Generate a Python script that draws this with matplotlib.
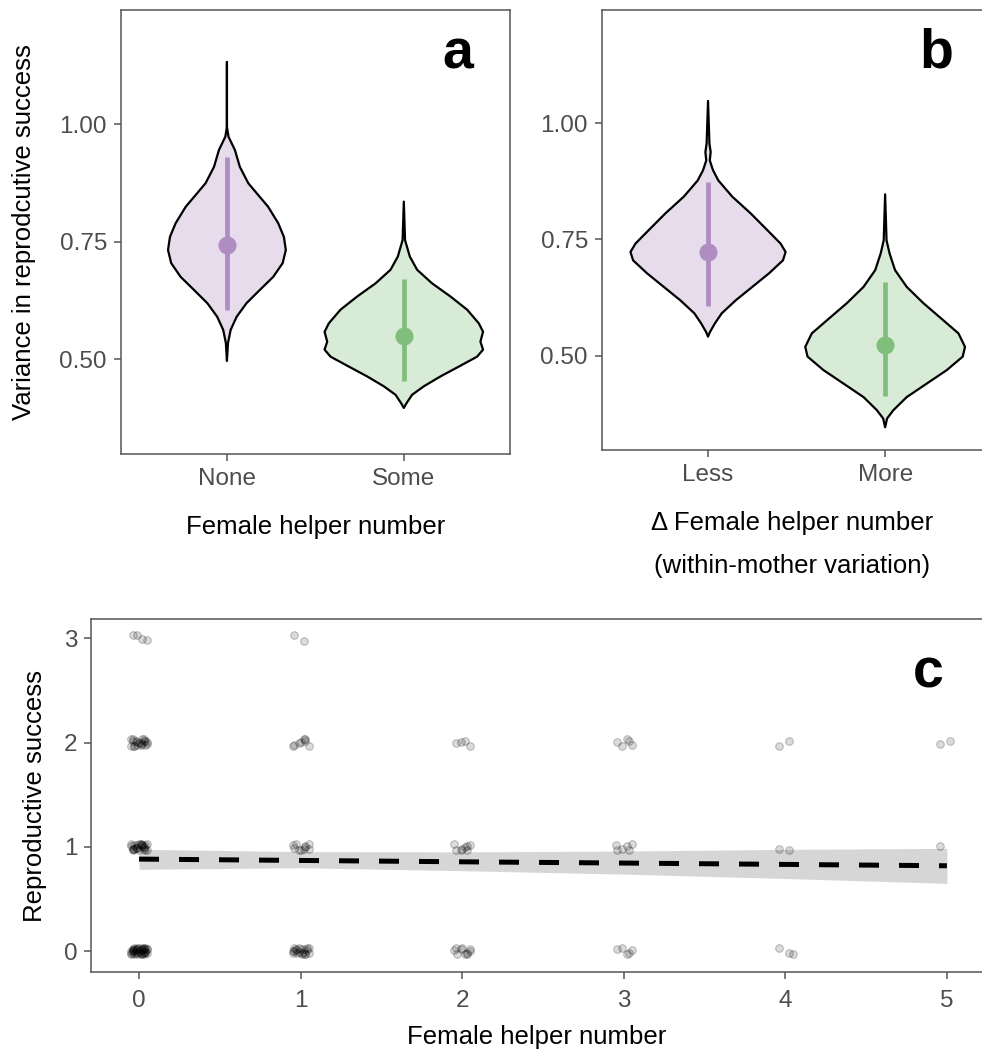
import numpy as np
import matplotlib.pyplot as plt

plt.rcParams['font.family'] = ['Liberation Sans', 'DejaVu Sans']

# ---- panel a: posterior violins (value, half width) ----
groups_a = ['None', 'Some']
none_y = [1.132, 0.994, 0.973, 0.945, 0.909, 0.874, 0.853, 0.824, 0.789, 0.760, 0.732,
          0.704, 0.675, 0.647, 0.619, 0.590, 0.562, 0.534, 0.496]
none_w = [0.0, 0.0, 0.009, 0.045, 0.073, 0.121, 0.168, 0.233, 0.290, 0.322, 0.333,
          0.315, 0.262, 0.186, 0.111, 0.055, 0.021, 0.006, 0.0]
some_y = [0.835, 0.753, 0.718, 0.690, 0.661, 0.633, 0.605, 0.576, 0.558, 0.537, 0.520,
          0.505, 0.484, 0.463, 0.442, 0.424, 0.406, 0.396]
some_w = [0.0, 0.007, 0.034, 0.075, 0.160, 0.264, 0.358, 0.424, 0.448, 0.433, 0.448,
          0.414, 0.311, 0.207, 0.113, 0.047, 0.015, 0.0]
med_a = [0.743, 0.548]
lo_a = [0.605, 0.454]
hi_a = [0.929, 0.670]

# ---- panel b ----
groups_b = ['Less', 'More']
less_y = [1.048, 0.956, 0.938, 0.920, 0.899, 0.877, 0.842, 0.806, 0.770, 0.741, 0.723,
          0.705, 0.677, 0.648, 0.619, 0.591, 0.569, 0.551, 0.541]
less_w = [0.0, 0.008, 0.015, 0.010, 0.028, 0.058, 0.137, 0.241, 0.335, 0.410, 0.438,
          0.423, 0.344, 0.250, 0.156, 0.077, 0.038, 0.011, 0.0]
more_y = [0.847, 0.748, 0.720, 0.684, 0.648, 0.613, 0.576, 0.548, 0.519, 0.498, 0.469,
          0.440, 0.411, 0.383, 0.365, 0.346]
more_w = [0.0, 0.008, 0.025, 0.056, 0.122, 0.216, 0.329, 0.414, 0.451, 0.438, 0.348,
          0.235, 0.122, 0.047, 0.011, 0.0]
med_b = [0.723, 0.522]
lo_b = [0.606, 0.413]
hi_b = [0.874, 0.659]

# ---- panel c: raw counts per (helpers, success) cell ----
cell_x = [0, 0, 0, 0, 1, 1, 1, 1, 2, 2, 2, 3, 3, 3, 4, 4, 4, 5, 5]
cell_y = [0, 1, 2, 3, 0, 1, 2, 3, 0, 1, 2, 0, 1, 2, 0, 1, 2, 1, 2]
cell_n = [40, 25, 20, 4, 20, 10, 8, 2, 10, 8, 4, 5, 6, 5, 3, 2, 2, 1, 2]
jit_dx = [-0.04, 0.02, 0.05, -0.01, 0.03, -0.05, 0.00, 0.03, -0.03, 0.05, -0.05, 0.01,
          -0.03, 0.04, -0.01, 0.02, -0.02, 0.04, -0.04, 0.01, 0.03, -0.04, 0.02, -0.01,
          0.00, 0.04, -0.03, 0.01, -0.05, 0.05, -0.02, 0.02, -0.01, 0.03, -0.02, 0.04,
          -0.04, 0.01, 0.03, -0.04]
jit_dy = [0.01, -0.03, 0.02, 0.03, -0.01, -0.02, 0.03, -0.03, 0.00, 0.02, -0.03, 0.01,
          0.03, -0.02, -0.03, 0.02, 0.01, -0.01, 0.02, -0.02, 0.03, 0.00, -0.02, 0.02,
          -0.01, 0.03, -0.03, 0.01, 0.00, -0.02, 0.02, 0.03, -0.02, 0.02, -0.01, 0.00,
          0.01, -0.03, 0.02, -0.02]
fit_x = [0, 1, 2, 3, 4, 5]
fit_y = [0.883, 0.870, 0.857, 0.845, 0.832, 0.819]
fit_lo = [0.785, 0.800, 0.772, 0.739, 0.697, 0.650]
fit_hi = [0.977, 0.955, 0.952, 0.960, 0.976, 0.986]

purple = '#af8dc3'
green = '#7fbf7b'
spine_col = '#555555'
tick_col = '#4d4d4d'

fig = plt.figure(figsize=(9.82, 10.52), dpi=100)
ax_a = fig.add_axes([0.1230, 0.5680, 0.3963, 0.4222])
ax_b = fig.add_axes([0.6128, 0.5726, 0.3872, 0.4177])
ax_c = fig.add_axes([0.0927, 0.0760, 0.9073, 0.3356])


def style(ax):
    for s in ax.spines.values():
        s.set_color(spine_col)
        s.set_linewidth(1.1)
    ax.tick_params(length=5, width=1.1, color=spine_col, labelcolor=tick_col,
                   labelsize=17.5, pad=5)


def violin(ax, pos, ys, ws, col):
    ys = np.array(ys)
    ws = np.array(ws)
    xs = np.concatenate([pos + ws, (pos - ws)[::-1]])
    yy = np.concatenate([ys, ys[::-1]])
    ax.fill(xs, yy, facecolor=col, alpha=0.3, edgecolor='none')
    ax.fill(xs, yy, facecolor='none', edgecolor='black', lw=1.6, joinstyle='round')


for ax, outlines, meds, los, his, names in [
        (ax_a, [(none_y, none_w), (some_y, some_w)], med_a, lo_a, hi_a, groups_a),
        (ax_b, [(less_y, less_w), (more_y, more_w)], med_b, lo_b, hi_b, groups_b)]:
    cols = [purple, green]
    for i, (ys, ws) in enumerate(outlines):
        pos = i + 1
        violin(ax, pos, ys, ws, cols[i])
        ax.plot([pos, pos], [los[i], his[i]], color=cols[i], lw=3.4, solid_capstyle='butt')
        ax.plot(pos, meds[i], 'o', ms=13, color=cols[i], mec='none')
    ax.set_xticks([1, 2])
    ax.set_xticklabels(names)
    ax.set_yticks([0.5, 0.75, 1.0])
    ax.set_yticklabels(['0.50', '0.75', '1.00'])
    style(ax)

ax_a.set_xlim(0.4, 2.6)
ax_a.set_ylim(0.297, 1.242)
ax_b.set_xlim(0.4, 2.547)
ax_b.set_ylim(0.298, 1.243)
ax_b.spines['right'].set_visible(False)

ax_a.set_ylabel('Variance in reprodcutive success', fontsize=18.5, labelpad=17)
ax_a.set_xlabel('Female helper number', fontsize=18.5, labelpad=18)
ax_b.set_xlabel('\u0394 Female helper number\n(within-mother variation)', fontsize=18.5,
                labelpad=18, linespacing=2.0)

ax_a.text(0.905, 0.96, 'a', transform=ax_a.transAxes, fontsize=40, fontweight='bold',
          ha='right', va='top')
ax_b.text(0.925, 0.96, 'b', transform=ax_b.transAxes, fontsize=40, fontweight='bold',
          ha='right', va='top')

# panel c
ax_c.fill_between(fit_x, fit_lo, fit_hi, color='#d6d6d6', lw=0)
px, py = [], []
for x, y, n in zip(cell_x, cell_y, cell_n):
    for k in range(n):
        j = k % len(jit_dx)
        px.append(x + jit_dx[j])
        py.append(y + jit_dy[(j + 3 * x + y) % len(jit_dy)])
ax_c.scatter(px, py, s=30, facecolor=(0, 0, 0, 0.14), edgecolor=(0, 0, 0, 0.25),
             linewidth=0.7, zorder=2)
ax_c.plot(fit_x, fit_y, color='black', lw=3.6, dashes=(4, 4), zorder=3)
ax_c.set_xlim(-0.297, 5.217)
ax_c.set_ylim(-0.2, 3.185)
ax_c.set_xticks([0, 1, 2, 3, 4, 5])
ax_c.set_yticks([0, 1, 2, 3])
ax_c.spines['right'].set_visible(False)
style(ax_c)
ax_c.tick_params(axis='x', pad=8)
ax_c.set_ylabel('Reproductive success', fontsize=18.5, labelpad=12)
ax_c.set_xlabel('Female helper number', fontsize=18.5, labelpad=9)
ax_c.text(0.957, 0.92, 'c', transform=ax_c.transAxes, fontsize=40, fontweight='bold',
          ha='right', va='top')

fig.savefig('out.png', dpi=100)
